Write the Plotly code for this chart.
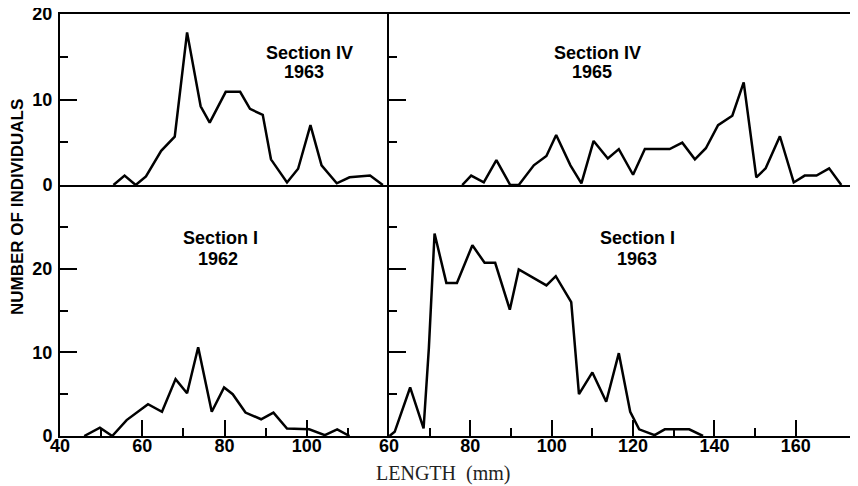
import plotly.graph_objects as go

# ---- data (length in mm, number of individuals) ----
s4_1963_len = [53, 55.7, 58.4, 60.9, 64.6, 67.9, 70.9, 74.2, 76.4, 80.3, 83.8, 86.2,
               89.3, 91.3, 95.2, 97.9, 100.9, 103.6, 107.3, 110.4, 115.4, 118.5]
s4_1963_n = [0, 1.1, 0, 1.0, 4.0, 5.65, 17.85, 9.2, 7.3, 10.9, 10.9, 8.9,
             8.2, 3.0, 0.3, 1.9, 7.0, 2.3, 0.2, 0.9, 1.1, 0]

s4_1965_len = [78.0, 80.2, 83.3, 86.4, 89.8, 91.9, 95.6, 98.7, 101.1, 104.6, 107.3, 110.3,
               113.8, 116.5, 120.0, 122.9, 129.0, 132.1, 135.2, 137.9, 140.9, 144.4,
               147.2, 150.3, 152.6, 156.1, 159.5, 162.2, 165.1, 168.2, 171.2]
s4_1965_n = [0, 1.1, 0.3, 2.9, 0, 0, 2.3, 3.4, 5.85, 2.3, 0.2, 5.15,
             3.1, 4.2, 1.2, 4.2, 4.2, 4.95, 3.0, 4.3, 7.0, 8.1,
             12.0, 0.9, 1.95, 5.7, 0.3, 1.1, 1.1, 1.95, 0]

s1_1962_len = [45.9, 49.7, 52.7, 56.2, 61.4, 64.8, 68.1, 70.9, 73.6, 76.9, 79.9, 82.0,
               85.1, 88.9, 91.9, 95.2, 100.6, 104.4, 107.4, 110.4]
s1_1962_n = [0, 1.0, 0, 1.9, 3.8, 2.9, 6.8, 5.1, 10.6, 2.9, 5.8, 5.0,
             2.8, 2.0, 2.8, 0.9, 0.8, 0.1, 0.8, 0]

s1_1963_len = [60.1, 61.4, 65.2, 68.5, 69.8, 71.2, 74.1, 76.7, 80.5, 83.5, 86.1, 89.7,
               91.9, 98.7, 101.0, 104.8, 106.7, 110.0, 113.4, 116.5, 119.3, 121.5,
               125.3, 127.8, 133.8, 137.2]
s1_1963_n = [0, 0.5, 5.8, 0.9, 10.5, 24.2, 18.3, 18.3, 22.8, 20.7, 20.7, 15.1,
             19.9, 18.0, 19.1, 16.0, 5.0, 7.6, 4.1, 9.9, 2.9, 0.8,
             0.1, 0.8, 0.8, 0]

left_ticks = [40, 60, 80, 100]
left_minor = [50, 70, 90, 110]
right_ticks = [60, 80, 100, 120, 140, 160]
right_minor = [70, 90, 110, 130, 150]
top_yticks = [0, 10, 20]
top_yminor = [5, 15]
bot_yticks = [0, 10, 20]
bot_yminor = [5, 15, 25]

d = 329 / 798
h = 251 / 422

BOLD = dict(family="Liberation Sans", size=18, color="black", weight="bold")
line = dict(color="black", width=2.5)

fig = go.Figure()
fig.add_trace(go.Scatter(x=s1_1962_len, y=s1_1962_n, mode="lines", line=line, xaxis="x", yaxis="y"))
fig.add_trace(go.Scatter(x=s1_1963_len, y=s1_1963_n, mode="lines", line=line, xaxis="x2", yaxis="y2"))
fig.add_trace(go.Scatter(x=s4_1963_len, y=s4_1963_n, mode="lines", line=line, xaxis="x3", yaxis="y3"))
fig.add_trace(go.Scatter(x=s4_1965_len, y=s4_1965_n, mode="lines", line=line, xaxis="x4", yaxis="y4"))

common = dict(showgrid=False, zeroline=False, showline=True, linecolor="black", linewidth=2,
              automargin=False)


def xax(dom, rng, anchor, tv, mv, labels=True):
    a = dict(common, domain=dom, range=rng, anchor=anchor)
    if labels:
        a.update(tickmode="array", tickvals=tv, ticktext=[str(v) for v in tv],
                 ticks="inside", ticklen=16, tickwidth=2, tickcolor="black",
                 tickfont=BOLD, ticklabelstandoff=-8, ticklabeloverflow="allow",
                 minor=dict(tickmode="array", tickvals=mv, ticks="inside", ticklen=8,
                            tickwidth=2, tickcolor="black", showgrid=False))
    else:
        a.update(ticks="", showticklabels=False, mirror=True)
    return a


def yax(dom, rng, anchor, tv, mv, labels):
    a = dict(common, domain=dom, range=rng, anchor=anchor,
             tickmode="array", tickvals=tv, ticktext=[str(v) for v in tv],
             ticks="inside", ticklen=17, tickwidth=2, tickcolor="black",
             showticklabels=labels, tickfont=BOLD, ticklabelstandoff=2,
             ticklabeloverflow="allow",
             minor=dict(tickmode="array", tickvals=mv, ticks="inside", ticklen=8,
                        tickwidth=2, tickcolor="black", showgrid=False))
    return a


fig.update_layout(
    width=858, height=486,
    margin=dict(l=52, r=8, t=6, b=58, autoexpand=False),
    paper_bgcolor="white", plot_bgcolor="white",
    showlegend=False,
    xaxis=xax([0, d], [40, 120], "y", left_ticks, left_minor),
    yaxis=yax([0, h], [0, 30], "x", bot_yticks, bot_yminor, True),
    xaxis2=xax([d, 1], [60, 175.3], "y2", right_ticks, right_minor),
    yaxis2=yax([0, h], [0, 30], "x2", bot_yticks, bot_yminor, False),
    xaxis3=xax([0, d], [40, 120], "y3", [], [], labels=False),
    yaxis3=yax([h, 1], [0, 20], "x3", top_yticks, top_yminor, True),
    xaxis4=xax([d, 1], [60, 175.3], "y4", [], [], labels=False),
    yaxis4=yax([h, 1], [0, 20], "x4", top_yticks, top_yminor, False),
)

ann_font = dict(family="Liberation Sans", size=18, color="black", weight="bold")
labels = [
    ("x3", "y3", 100.7, 15.4, "Section IV"), ("x3", "y3", 99.3, 13.2, "1963"),
    ("x4", "y4", 111.2, 15.4, "Section IV"), ("x4", "y4", 110.0, 13.2, "1965"),
    ("x", "y", 79.1, 23.7, "Section I"), ("x", "y", 78.4, 21.1, "1962"),
    ("x2", "y2", 121.2, 23.7, "Section I"), ("x2", "y2", 120.9, 21.1, "1963"),
]
for xr, yr, xv, yv, t in labels:
    fig.add_annotation(x=xv, y=yv, xref=xr, yref=yr, text=t, showarrow=False,
                       font=ann_font, xanchor="center", yanchor="middle")

# axis titles (positions given in screen pixels, converted to paper coords)
fig.add_annotation(x=(443 - 60) / 798, y=(436 - 473) / 422, xref="paper", yref="paper",
                   text="LENGTH  (mm)", showarrow=False, xanchor="center", yanchor="middle",
                   font=dict(family="Liberation Serif", size=20, color="#222"))
fig.add_annotation(x=(17 - 60) / 798, y=(436 - 207) / 422, xref="paper", yref="paper",
                   text="NUMBER OF INDIVIDUALS", showarrow=False, textangle=-90,
                   xanchor="center", yanchor="middle",
                   font=dict(family="Liberation Sans", size=17, color="black", weight="bold"))

fig.write_html("out.html")
